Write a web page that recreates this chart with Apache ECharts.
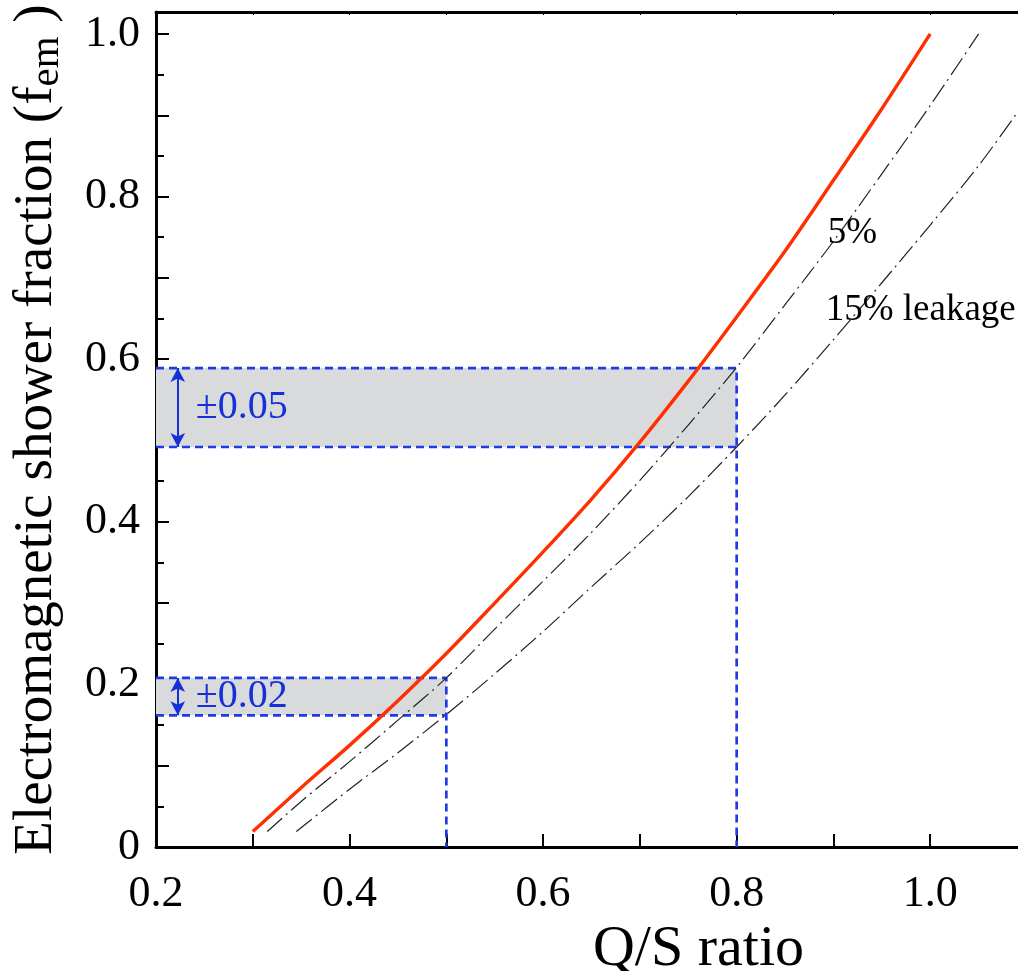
<!DOCTYPE html>
<html><head><meta charset="utf-8">
<script src="https://cdn.jsdelivr.net/npm/echarts@6/dist/echarts.min.js"></script>
<style>html,body{margin:0;padding:0;background:#fff;overflow:hidden}#c{width:1018px;height:971px}</style>
</head><body><div id="c"></div>
<script>
// ---- data ----
const redX = [0.30,0.35,0.40,0.45,0.50,0.55,0.60,0.65,0.70,0.75,0.80,0.85,0.90,0.95,1.00];
const redY = [0.019,0.073,0.125,0.180,0.238,0.300,0.363,0.428,0.498,0.573,0.652,0.733,0.820,0.908,1.000];
const leak5X = [0.315,0.35,0.40,0.45,0.50,0.55,0.60,0.65,0.70,0.75,0.80,0.85,0.90,0.95,1.00,1.05];
const leak5Y = [0.019,0.056,0.105,0.156,0.208,0.268,0.327,0.387,0.451,0.519,0.590,0.667,0.745,0.828,0.912,1.000];
const leak15X = [0.345,0.40,0.45,0.50,0.55,0.60,0.65,0.70,0.75,0.80,0.85,0.90,0.95,1.00,1.05,1.10];
const leak15Y = [0.019,0.071,0.116,0.163,0.213,0.265,0.320,0.374,0.431,0.492,0.556,0.624,0.694,0.765,0.838,0.920];
const cutX = [0.5, 0.8];
const bandLo = [0.162, 0.492];
const bandHi = [0.208, 0.589];
const bandText = ['±0.02', '±0.05'];
const arrowX = 0.2225;
const bandTextX = 0.241;
const curveLabels = ['5%', '15% leakage'];
const curveLabelX = [0.894, 0.892];
const curveLabelY = [0.755, 0.660];
const xTickLabels = ['0.2','0.4','0.6','0.8','1.0'];
const yTickLabels = ['0','0.2','0.4','0.6','0.8','1.0'];
const xRange = [0.2, 1.1];
const yRange = [0, 1.027];

const FONT = 'Liberation Serif';
const BLUE = '#1f3be6';
const BLUE_TXT = '#1530d8';
const GRAY = '#d9dadb';

function pickLabel(list, v) {
  for (const s of list) { if (Math.abs(parseFloat(s) - v) < 1e-6) return s; }
  return '';
}
const pairs = (xs, ys) => xs.map((x, i) => [x, ys[i]]);

const series = [];
// gray bands
series.push({
  type: 'line', data: [], z: 0, silent: true,
  markArea: {
    silent: true, itemStyle: { color: GRAY },
    data: cutX.map((c, i) => [{ coord: [xRange[0], bandLo[i]] }, { coord: [c, bandHi[i]] }])
  }
});
// dashed guide lines and arrows
cutX.forEach((c, i) => {
  const dash = { color: BLUE, width: 2.7, type: [8, 5] };
  series.push({
    type: 'line', data: [[xRange[0], bandHi[i]], [c, bandHi[i]], [c, 0]],
    symbol: 'none', lineStyle: dash, z: 3, silent: true, animation: false,
    markLine: {
      silent: true, symbol: ['arrow', 'arrow'], symbolSize: [11, 14],
      lineStyle: { color: BLUE_TXT, width: 2, type: 'solid', opacity: 1 }, label: { show: false },
      data: [[{ coord: [arrowX, bandHi[i]] }, { coord: [arrowX, bandLo[i]] }]]
    }
  });
  series.push({
    type: 'line', data: [[xRange[0], bandLo[i]], [c, bandLo[i]]],
    symbol: 'none', lineStyle: dash, z: 3, silent: true, animation: false
  });
});
// curves
series.push({
  type: 'line', data: pairs(leak15X, leak15Y), symbol: 'none', smooth: 0.3,
  lineStyle: { color: '#222', width: 1.2, type: [20, 5, 2, 5] }, z: 5, animation: false
});
series.push({
  type: 'line', data: pairs(leak5X, leak5Y), symbol: 'none', smooth: 0.3,
  lineStyle: { color: '#222', width: 1.2, type: [20, 5, 2, 5] }, z: 5, animation: false
});
series.push({
  type: 'line', data: pairs(redX, redY), symbol: 'none', smooth: 0.3,
  lineStyle: { color: '#ff2f00', width: 3.4 }, z: 6, animation: false
});
// band texts
series.push({
  type: 'scatter', symbolSize: 0, z: 7, silent: true, animation: false,
  itemStyle: { opacity: 1 },
  data: cutX.map((c, i) => ({ name: bandText[i], value: [bandTextX, (bandLo[i] + bandHi[i]) / 2] })),
  label: { show: true, position: 'right', distance: 0, formatter: '{b}', color: BLUE_TXT, opacity: 1, fontSize: 40, fontFamily: FONT }
});
// curve labels
series.push({
  type: 'scatter', symbolSize: 0, z: 7, silent: true, animation: false,
  itemStyle: { opacity: 1 },
  data: curveLabels.map((t, i) => ({ name: t, value: [curveLabelX[i], curveLabelY[i]] })),
  label: { show: true, position: 'right', distance: 0, formatter: '{b}', color: '#000', opacity: 1, fontSize: 37, fontFamily: FONT }
});

const axisLine = { show: true, onZero: false, lineStyle: { color: '#000', width: 3 } };
const option = {
  backgroundColor: '#fff',
  animation: false,
  grid: { left: 156, right: -9, top: 12, bottom: 124, containLabel: false, outerBoundsMode: 'none' },
  xAxis: [
    {
      type: 'value', min: xRange[0], max: xRange[1], interval: 0.1, position: 'bottom',
      axisLine, splitLine: { show: false },
      axisTick: { show: true, inside: true, length: 13, lineStyle: { color: '#000', width: 2 } },
      axisLabel: { formatter: v => pickLabel(xTickLabels, v), fontSize: 44, fontFamily: FONT, color: '#000', margin: 25 },
      name: 'Q/S ratio', nameLocation: 'middle', nameGap: 69,
      nameTextStyle: { fontSize: 58, fontFamily: FONT, color: '#000', padding: [0, 0, 0, 214] }
    },
    {
      type: 'value', min: xRange[0], max: xRange[1], interval: 0.1, position: 'top',
      axisLine, splitLine: { show: false },
      axisTick: { show: true, inside: true, length: 3, lineStyle: { color: '#000', width: 1 } },
      axisLabel: { show: false }
    }
  ],
  yAxis: [
    {
      type: 'value', min: yRange[0], max: yRange[1], interval: 0.1, position: 'left',
      axisLine, splitLine: { show: false },
      axisTick: { show: true, inside: true, length: 13, lineStyle: { color: '#000', width: 2 } },
      axisLabel: { formatter: v => pickLabel(yTickLabels, v), fontSize: 44, fontFamily: FONT, color: '#000', margin: 16 },
      name: '{a|Electromagnetic shower fraction (f}{s|em}{a| )}', nameLocation: 'middle', nameGap: 88,
      nameTextStyle: {
        fontSize: 55, fontFamily: FONT, color: '#000',
        rich: {
          a: { fontSize: 55, fontFamily: FONT, color: '#000' },
          s: { fontSize: 41, fontFamily: FONT, color: '#000', padding: [22, 0, 0, 0] }
        }
      }
    },
    {
      type: 'value', min: yRange[0], max: yRange[1], interval: 0.05, position: 'left', offset: 0,
      axisLine: { show: false }, splitLine: { show: false },
      axisTick: { show: true, inside: true, length: 8, lineStyle: { color: '#000', width: 2 } },
      axisLabel: { show: false }
    }
  ],
  series
};
const chart = echarts.init(document.getElementById('c'), null, { renderer: 'canvas' });
chart.setOption(option);
</script></body></html>
